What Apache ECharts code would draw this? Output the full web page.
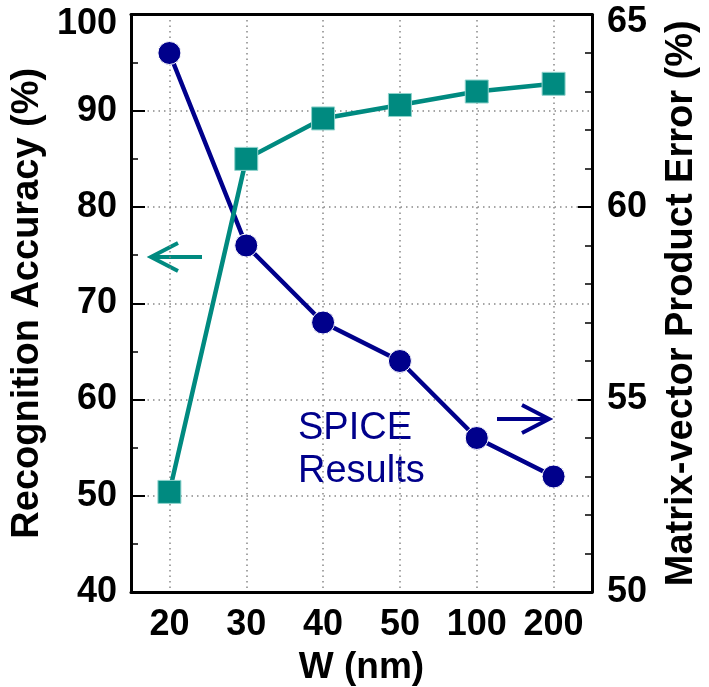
<!DOCTYPE html>
<html>
<head>
<meta charset="utf-8">
<script src="https://cdn.jsdelivr.net/npm/echarts@6/dist/echarts.min.js"></script>
<style>
  html, body { margin: 0; padding: 0; background: #fff; }
  #chart { width: 709px; height: 687px; }
</style>
</head>
<body>
<div id="chart"></div>
<script>
// W (nm) on the x axis
var widths = ['20', '30', '40', '50', '100', '200'];
// left axis: recognition accuracy (%)
var accuracy = [50.4, 85.0, 89.2, 90.6, 92.0, 92.8];
// right axis: matrix-vector product error (%)
var mvmError = [64.0, 59.0, 57.0, 56.0, 54.0, 53.0];

var NAVY = '#00008b';
var TEAL = '#008a80';
var FONT = '"Liberation Sans", Arial, sans-serif';

var chart = echarts.init(document.getElementById('chart'));

var tickLabel = {
  fontFamily: FONT, fontSize: 36, fontWeight: 'bold', color: '#000'
};
var gridDots = { color: '#888', type: [1.5, 4], width: 1.5 };

function yLabel(max) {
  return function (v) {
    return v === max ? '{top|' + v + '}' : '' + v;
  };
}

var option = {
  backgroundColor: '#fff',
  animation: false,
  grid: { left: 131, right: 117, top: 14.5, bottom: 95, outerBoundsMode: 'none' },
  xAxis: [{
    type: 'category',
    data: widths,
    name: 'W (nm)',
    nameLocation: 'middle',
    nameGap: 57,
    nameTextStyle: { fontFamily: FONT, fontSize: 37, fontWeight: 'bold', color: '#000' },
    axisLine: { lineStyle: { color: '#000', width: 3 } },
    axisTick: { inside: true, interval: 0, alignWithLabel: true, length: 14, lineStyle: { color: '#000', width: 2 } },
    axisLabel: Object.assign({ margin: 15, interval: 0 }, tickLabel),
    splitLine: { show: true, interval: 0, alignWithLabel: true, lineStyle: gridDots }
  }, {
    type: 'category',
    data: widths,
    position: 'top',
    axisLine: { lineStyle: { color: '#000', width: 3 } },
    axisTick: { inside: true, interval: 0, alignWithLabel: true, length: 14, lineStyle: { color: '#000', width: 2 } },
    axisLabel: { show: false }
  }],
  yAxis: [{
    type: 'value',
    min: 40, max: 100, interval: 10,
    name: 'Recognition Accuracy (%)',
    nameLocation: 'middle',
    nameGap: 76,
    nameTextStyle: { fontFamily: FONT, fontSize: 38, fontWeight: 'bold', color: '#000' },
    axisLine: { show: true, lineStyle: { color: '#000', width: 3 } },
    axisTick: { show: true, inside: true, length: 14, lineStyle: { color: '#000', width: 2 } },
    minorTick: { show: true, splitNumber: 2, length: 7, lineStyle: { color: '#000', width: 1.5 } },
    axisLabel: Object.assign({
      margin: 14,
      formatter: yLabel(100),
      rich: { top: { fontFamily: FONT, fontSize: 36, fontWeight: 'bold', color: '#000', padding: [19, 0, 0, 0] } }
    }, tickLabel),
    splitLine: { show: true, lineStyle: gridDots }
  }, {
    type: 'value',
    min: 50, max: 65, interval: 5,
    position: 'right',
    name: 'Matrix-vector Product Error (%)',
    nameLocation: 'middle',
    nameGap: 71,
    nameTextStyle: { fontFamily: FONT, fontSize: 38, fontWeight: 'bold', color: '#000' },
    axisLine: { show: true, lineStyle: { color: '#000', width: 3 } },
    axisTick: { show: true, inside: true, length: 14, lineStyle: { color: '#000', width: 2 } },
    minorTick: { show: true, splitNumber: 5, length: 7, lineStyle: { color: '#000', width: 1.5 } },
    axisLabel: Object.assign({
      margin: 15,
      formatter: yLabel(65),
      rich: { top: { fontFamily: FONT, fontSize: 36, fontWeight: 'bold', color: '#000', padding: [16, 0, 0, 0] } }
    }, tickLabel),
    splitLine: { show: false }
  }],
  series: [{
    name: 'SPICE error',
    type: 'line',
    yAxisIndex: 1,
    data: mvmError,
    symbol: 'circle',
    symbolSize: 23,
    lineStyle: { color: NAVY, width: 4.5 },
    itemStyle: { color: NAVY, borderColor: '#fff', borderWidth: 1 },
    z: 3
  }, {
    name: 'Accuracy',
    type: 'line',
    yAxisIndex: 0,
    data: accuracy,
    symbol: 'rect',
    symbolSize: 23,
    lineStyle: { color: TEAL, width: 4.5 },
    itemStyle: { color: TEAL, borderColor: '#8fd3cc', borderWidth: 1 },
    z: 4
  }],
  graphic: [{
    type: 'text',
    left: 298, top: 407,
    style: {
      text: 'SPICE\nResults',
      fontFamily: FONT, fontSize: 38, lineHeight: 43,
      fill: NAVY, align: 'left'
    }
  }, {
    // arrow pointing to the left axis
    type: 'polyline',
    shape: { points: [[202, 257], [151, 257]] },
    style: { stroke: TEAL, lineWidth: 4, fill: null }
  }, {
    type: 'polyline',
    shape: { points: [[178, 243], [151, 257], [178, 271]] },
    style: { stroke: TEAL, lineWidth: 4, fill: null }
  }, {
    // arrow pointing to the right axis
    type: 'polyline',
    shape: { points: [[497, 419], [549, 419]] },
    style: { stroke: NAVY, lineWidth: 4, fill: null }
  }, {
    type: 'polyline',
    shape: { points: [[522, 405], [549, 419], [522, 433]] },
    style: { stroke: NAVY, lineWidth: 4, fill: null }
  }]
};

chart.setOption(option);
</script>
</body>
</html>
